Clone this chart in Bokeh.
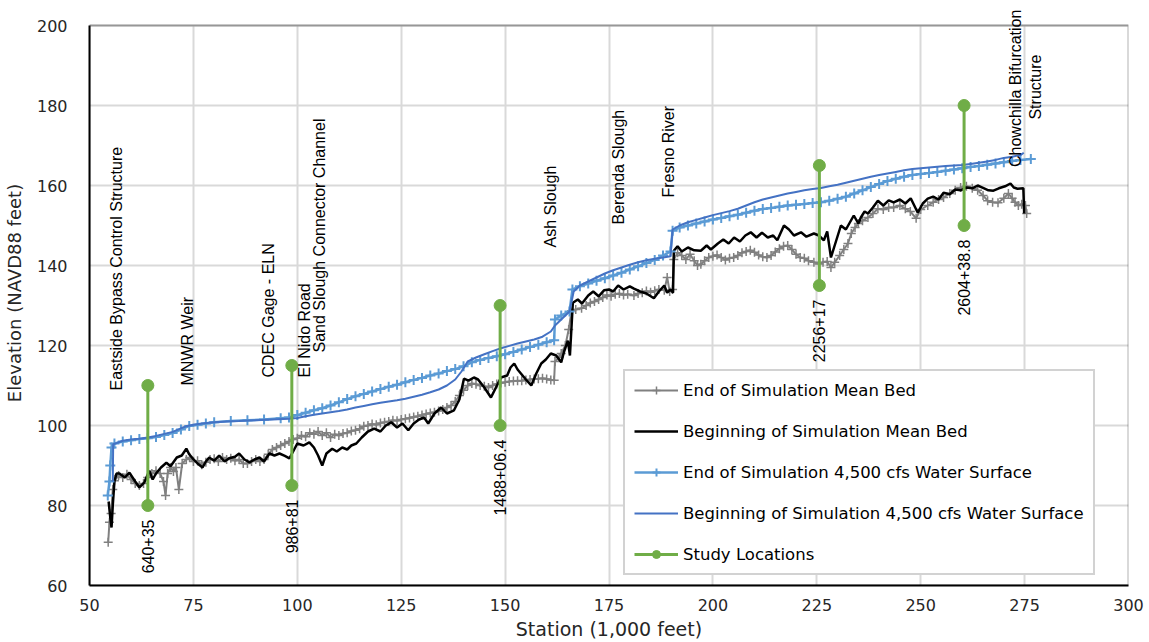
import numpy as np
from bokeh.plotting import figure
from bokeh.models import Range1d, FixedTicker, Legend, LegendItem, Label, ColumnDataSource, BoxAnnotation
from bokeh.core.properties import value
from bokeh.embed import file_html
from bokeh.resources import INLINE

# ---- profile data (station in 1,000 ft, elevation in ft NAVD88) ----
beg_ws_st = [55.6, 55.7, 56.5, 58, 60, 62, 64, 66, 68, 70, 72, 73.5, 75, 77, 80, 83, 86, 90, 94, 98,
             100, 102, 104, 106, 108, 110, 112, 114, 116, 118, 120, 122, 124, 126, 128, 130, 132, 134,
             136, 138, 139.5, 141, 143, 145, 147, 149, 151, 153, 155, 157, 159, 161, 162, 163.5, 165.5,
             166.5, 168, 170, 172, 174, 176, 178, 180, 182, 184, 186, 188, 189.8, 190.3, 192, 194, 196,
             198, 200, 202, 204, 206, 208, 210, 212, 214, 216, 218, 220, 222, 224, 226, 228, 230, 232,
             234, 236, 238, 240, 242, 244, 246, 248, 250, 252, 254, 256, 258, 260, 262, 264, 266, 268,
             270, 272, 274, 274.8]
beg_ws_el = [86, 95.3, 95.6, 96.2, 96.5, 96.7, 97, 97.4, 97.9, 98.4, 99.3, 99.9, 100.2, 100.5, 100.8,
             101.0, 101.1, 101.3, 101.5, 101.7, 101.9, 102.3, 102.7, 103.0, 103.3, 103.6, 104.0, 104.5,
             104.9, 105.3, 105.7, 106.0, 106.3, 106.7, 107.2, 107.7, 108.3, 109.0, 110.0, 111.5, 113.5,
             116.0, 117.0, 117.8, 118.6, 119.3, 119.9, 120.5, 121.0, 121.5, 122.2, 123.5, 125, 126.5,
             128.5, 133.5, 135.0, 136.0, 137.0, 138.0, 138.8, 139.5, 140.2, 140.8, 141.3, 141.7, 142.0,
             142.3, 149.0, 150.0, 150.8, 151.4, 152.0, 152.6, 153.1, 153.6, 154.2, 155.0, 155.8, 156.5,
             157.0, 157.5, 158.0, 158.4, 158.8, 159.1, 159.4, 159.8, 160.2, 160.7, 161.2, 161.7, 162.2,
             162.6, 163.0, 163.4, 163.8, 164.1, 164.3, 164.5, 164.7, 164.9, 165.0, 165.1, 165.4, 165.7,
             166.0, 166.4, 166.9, 167.2, 167.6, 168.2]

end_ws_st = [54.4, 54.8, 55.0, 55.3, 56, 58, 60, 62, 64, 66, 68, 70, 72, 74, 76, 78, 80, 84, 88, 92, 96,
             98, 100, 102, 104, 106, 108, 110, 112, 114, 116, 118, 120, 122, 124, 126, 128, 130, 132, 134,
             136, 138, 140, 142, 144, 146, 148, 150, 152, 154, 156, 158, 160, 161.8, 162.0, 163.5, 165.5,
             166.2, 168, 170, 172, 174, 176, 178, 180, 182, 184, 186, 188, 189.8, 190.3, 192, 194, 196,
             198, 200, 202, 204, 206, 208, 210, 212, 214, 216, 218, 220, 222, 224, 226, 228, 230, 232,
             234, 236, 238, 240, 242, 244, 246, 248, 250, 252, 254, 256, 258, 260, 262, 264, 266, 268,
             270, 272, 274, 276.5]
end_ws_el = [82.5, 86, 90, 94.5, 95.5, 96, 96.3, 96.6, 96.8, 97.1, 97.6, 98.1, 99.0, 99.9, 100.2, 100.5,
             100.8, 101.1, 101.3, 101.5, 101.8, 102.0, 102.6, 103.2, 103.8, 104.3, 105.0, 105.8, 106.6,
             107.3, 107.9, 108.5, 109.1, 109.7, 110.2, 110.8, 111.4, 111.9, 112.5, 113.0, 113.6, 114.1,
             114.8, 115.8, 116.4, 116.9, 117.3, 117.8, 118.4, 119.0, 119.6, 120.2, 120.8, 121.3, 126.5,
             127.5, 128.5, 134, 134.8, 135.5, 136.2, 136.8, 137.5, 138.2, 139.0, 139.8, 140.6, 141.4,
             142.5, 143.5, 148.7, 149.5, 150.0, 150.5, 151.0, 151.5, 151.9, 152.3, 152.7, 153.2, 153.7,
             154.1, 154.4, 154.7, 155.0, 155.2, 155.4, 155.6, 155.8, 156.2, 156.7, 157.2, 158.0, 158.8,
             159.6, 160.4, 161.1, 161.7, 162.2, 162.6, 162.9, 163.1, 163.4, 163.7, 164.0, 164.3, 164.6,
             164.9, 165.2, 165.5, 165.8, 166.1, 166.4, 166.6]

beg_bed_st = [54.6, 55.0, 55.3, 55.6, 56.0, 56.5, 57.2, 58.5, 59.6, 61, 62, 63.2, 64.4, 65.2, 66, 67.2,
              68.5, 69.5, 71, 72.2, 73.3, 74, 74.8, 76, 77.2, 78, 78.8, 80, 81.2, 82.5, 83.6, 85, 86,
              87.3, 88.5, 89.7, 90.9, 92, 93.3, 94.5, 95.7, 97, 98.1, 99, 100, 101.5, 102.9, 104, 105,
              106, 107, 108.4, 109.5, 110.8, 112, 113, 114.2, 115.5, 117, 118.5, 120, 121.3, 122.6, 124,
              125.3, 126.7, 128, 129.3, 130.5, 131.5, 133, 134.6, 136, 137.7, 139, 140.1, 141.2, 142.5,
              143.5, 145, 146.6, 147.8, 149, 150.5, 151.3, 152.2, 153, 153.8, 155, 156.3, 157.5, 158.7,
              159.8, 161, 162.3, 163.5, 164.2, 165.1, 165.6, 166.3, 167.5, 168.5, 170, 171.2, 172.5,
              173.8, 175, 176, 177.2, 178.5, 180, 181, 182.5, 184, 185.8, 187, 188.3, 189, 189.8, 190.4,
              190.6, 191.5, 192.5, 194, 195.5, 197.1, 198.5, 199.5, 201.2, 202.5, 203.8, 205.1, 206.5,
              207.8, 209.1, 210.5, 211.8, 213.2, 214.5, 215.5, 217.1, 218.3, 219.5, 221.2, 222.5, 224.3,
              225.5, 226.7, 227.5, 228.4, 229.3, 230.8, 232, 233.9, 235, 235.6, 236.5, 237.3, 238.5,
              239.7, 241, 242.3, 243.5, 245, 246.3, 247.6, 249.3, 250.5, 251.7, 253, 254.3, 255.5, 257,
              258.3, 259.6, 261, 262.4, 263.7, 265, 266.3, 267.5, 268.8, 270.3, 271.6, 272.4, 273.3,
              274.7, 274.9]
beg_bed_el = [81, 77, 74.5, 80, 86, 88, 88, 87, 88.2, 86, 84.5, 85.8, 88.7, 86.5, 88, 89.5, 90.7, 89.8,
              92, 92.5, 94.2, 92.8, 91.8, 90.5, 89.5, 91, 92, 91.2, 92.5, 91, 91.8, 92.2, 93, 91.5, 90.8,
              91.5, 92, 91, 93, 92.5, 93, 92.4, 91.8, 93.5, 95.5, 95, 95.8, 94.5, 92.5, 90, 93, 94.2,
              93.5, 94.5, 94, 95, 95.5, 97, 98.5, 99.2, 98.5, 100, 100.8, 99.5, 100.5, 98.8, 100.5,
              101.5, 102, 100.5, 103, 104.5, 103, 103.8, 106.5, 111.7, 111.2, 112, 111.5, 109.5, 107,
              109.5, 112, 112.5, 114.5, 115.5, 114, 113, 111.5, 110, 113, 115.5, 116.5, 118, 117.5,
              115.8, 118.5, 121.2, 117.5, 130.7, 131.5, 130.5, 132.5, 133.5, 132.3, 133.8, 134, 133.5,
              135, 134, 134.8, 134.2, 133.5, 133, 131.8, 133.5, 135, 133.2, 134, 133.2, 143.7, 144.8,
              143.5, 144.5, 143.8, 143.7, 145, 144, 145.5, 146.5, 145.5, 147, 146, 147.5, 148.3, 147,
              148.2, 147, 147.5, 146.3, 150, 149, 147.5, 148.3, 147.2, 148, 147.5, 146.3, 148.5, 142,
              145, 150, 149, 152.5, 150.5, 152, 153.5, 153, 154.5, 156.2, 155, 156.3, 155.8, 156.5,
              155.5, 156.8, 153.2, 155.5, 156.7, 157.2, 156.5, 158.2, 157.8, 159, 158.8, 159.5, 159.3,
              160, 159.4, 158.8, 158.7, 159.3, 159.8, 160.5, 159.5, 159.2, 159.3, 153]

end_bed_st = [54.5, 54.8, 55.2, 55.6, 56, 57, 58, 59, 60, 61, 62, 63, 64, 65, 66, 67, 67.8, 68.3, 68.8,
              69.5, 70.2, 70.8, 71.5, 72.3, 73.3, 74.1, 75, 76, 77, 78, 79, 80, 81, 82, 83, 84, 85, 86,
              87, 88, 89, 90, 91, 92, 93, 94, 95, 96, 97, 98, 99, 100, 101, 102, 103, 104, 105, 106,
              107, 108, 109, 110, 111, 112, 113, 114, 115, 116, 117, 118, 119, 120, 121, 122, 123, 124,
              125, 126, 127, 128, 129, 130, 131, 132, 133, 134, 135, 136, 137, 138, 139, 140, 141, 142,
              143, 144, 145, 146, 147, 148, 149, 150, 151, 152, 153, 154, 155, 156, 157, 158, 159, 160,
              161, 161.8, 162, 163, 163.5, 164.5, 165.3, 166, 167, 168.4, 169.5, 170.5, 171.5, 172.5,
              173.5, 174.5, 175.5, 176.5, 177.5, 178.5, 179.5, 181, 182, 183, 184, 185, 186, 187, 188.3,
              189, 189.6, 190.3, 190.6, 191.5, 192.5, 193.5, 194.5, 195.5, 196.3, 197.1, 198, 199, 200,
              201, 202, 203, 204, 205, 206, 207, 208, 209, 210, 211, 212, 213, 214, 215, 216, 217, 218,
              219, 220, 221, 222, 223, 224.3, 225.5, 226.5, 227.5, 228.4, 229.3, 230.5, 231.5, 232.5,
              233.3, 234.2, 235, 236, 237.3, 238.5, 239.7, 241, 242.3, 243.5, 245, 246.3, 247.5, 248.9,
              250, 251.7, 253, 254.3, 255.5, 257, 258.3, 259.6, 261, 262.4, 263.7, 265, 266.1, 267.3,
              268.6, 270, 271.1, 272, 272.7, 273.5, 274.3, 275.2, 275.5]
end_bed_el = [70.8, 75.8, 78, 84, 86.2, 87.5, 87, 87.8, 86.5, 85.5, 85, 85.5, 87, 88, 88.7, 88, 86, 82.5,
              88, 89.5, 88.5, 89.5, 84, 90.5, 91.5, 92, 91, 91.2, 90.2, 90.8, 91.5, 91.7, 91, 92, 91.5,
              91.8, 91.2, 91.5, 90.5, 90.5, 91, 91.5, 91, 91.5, 92.8, 94, 94.5, 95, 95.5, 96, 96.5, 96.8,
              97.5, 97.2, 98.2, 97.8, 98.5, 97.5, 98.2, 97, 97.8, 97.5, 98, 98.2, 98.6, 98.8, 99.2, 99.8,
              100, 100.4, 100.2, 100.6, 100.8, 101, 101.3, 101.2, 101.5, 101.7, 101.9, 102.1, 102.3,
              102.6, 102.9, 103.1, 103.3, 103.6, 104, 104.5, 105, 106, 107.5, 108.8, 110, 110.5, 110.3,
              110, 109.8, 109.5, 110, 110.4, 110.6, 110.8, 111, 111.1, 111.2, 111.2, 111.4, 111.5, 111.6,
              111.7, 111.8, 111.6, 111.4, 111.3, 116, 117, 118, 120, 124, 128.7, 129, 129.3, 130, 130.6,
              131, 131.5, 132, 132.6, 132.3, 132.8, 133, 132.6, 132.8, 132.5, 133, 133.2, 133.6, 133.3,
              133.7, 134, 133.8, 137, 133.5, 134, 141.5, 143.2, 142.5, 141.5, 142.8, 141.2, 140, 140.3,
              141.2, 142, 142.3, 142.6, 142, 141.4, 141.8, 142, 142.5, 143.2, 143.5, 143.8, 143.3, 142.6,
              142.2, 142, 142.5, 143.4, 144.2, 144.8, 145, 144, 142.8, 142, 141.8, 141.2, 140.8, 140.4,
              140.8, 141, 139.5, 140.8, 142.5, 144, 145.5, 148, 149.5, 150.5, 151.2, 152, 153, 154.2,
              154, 154.5, 154.5, 155, 154.2, 153.5, 151.8, 154, 155, 155.8, 156.5, 157, 158, 158.8, 159.5,
              159.8, 159.3, 158.8, 157.5, 156.2, 155.8, 155.7, 156.8, 158, 156.8, 155.8, 155, 155.3, 155,
              153]

# study locations: station, lower and upper ends of the marker bar, label
study_st = [64.035, 98.681, 148.806, 225.617, 260.439]
study_low = [80, 85, 100, 135, 150]
study_high = [110, 115, 130, 165, 180]
study_names = ["640+35", "986+81", "1488+06.4", "2256+17", "2604+38.8"]

# landmarks along the reach: name, station, elevation at the start of the label
landmark_names = ["Eastside Bypass Control Structure", "MNWR Weir", "CDEC Gage - ELN",
                  "El Nido Road", "Sand Slough Connector Channel", "Ash Slough",
                  "Berenda Slough", "Fresno River"]
landmark_st = [56.5, 73.6, 93.0, 101.7, 105.3, 161.0, 177.4, 189.4]
landmark_el = [108.75, 110.0, 112.0, 112.0, 118.25, 144.5, 150.25, 157.0]
# two-line label centred on its anchor
bif_lines = ["Chowchilla Bifurcation", "Structure"]
bif_st = [272.8, 277.6]
bif_el = [184.3, 184.6]

X_MIN, X_MAX, Y_MIN, Y_MAX = 50, 300, 60, 200

GRAY = "#808080"
LIGHT_BLUE = "#5B9BD5"
BLUE = "#4472C4"
GREEN = "#70AD47"
LABEL_FONT = "Liberation Sans"
TICK_FONT = "DejaVu Sans"

# the frame runs to the top of the canvas so that tall labels are not clipped;
# the plotting box itself is drawn as an annotation at the axis limits
p = figure(width=1149, height=642, x_range=Range1d(X_MIN, X_MAX), y_range=Range1d(Y_MIN, Y_MAX + 6.25),
           output_backend="svg", toolbar_location=None,
           min_border_left=88, min_border_right=21, min_border_top=0, min_border_bottom=57)
p.background_fill_color = "white"
p.border_fill_color = "white"
p.outline_line_color = None

p.xaxis.ticker = FixedTicker(ticks=list(range(X_MIN, X_MAX + 1, 25)))
p.yaxis.ticker = FixedTicker(ticks=list(range(Y_MIN, Y_MAX + 1, 20)))
p.yaxis.bounds = (Y_MIN, Y_MAX)
for ax in (p.xaxis, p.yaxis):
    ax.axis_line_color = "black"
    ax.axis_line_width = 2
    ax.major_tick_line_color = None
    ax.minor_tick_line_color = None
    ax.major_label_text_font = TICK_FONT
    ax.major_label_text_font_size = "16px"
    ax.major_label_text_color = "#262626"
    ax.axis_label_text_font = TICK_FONT
    ax.axis_label_text_font_style = "normal"
    ax.axis_label_text_color = "#262626"
p.xaxis.axis_label = "Station (1,000 feet)"
p.yaxis.axis_label = "Elevation (NAVD88 feet)"
p.xaxis.axis_label_text_font_size = "19px"
p.yaxis.axis_label_text_font_size = "18px"
p.xaxis.major_label_standoff = 7
p.yaxis.major_label_standoff = 16
p.xaxis.axis_label_standoff = 4
p.yaxis.axis_label_standoff = 9
p.grid.grid_line_color = "#D9D9D9"
p.grid.grid_line_width = 2
p.xgrid.cross_bounds = (Y_MIN, Y_MAX)

p.add_layout(BoxAnnotation(left=X_MIN, right=X_MAX, bottom=Y_MIN, top=Y_MAX,
                           fill_color=None, fill_alpha=0, line_color="black", line_width=2))

# bed profiles
r_eb_line = p.line(end_bed_st, end_bed_el, line_color=GRAY, line_width=2)
r_eb_mark = p.scatter(end_bed_st, end_bed_el, marker="cross", size=9, line_color=GRAY, line_width=1.5)
r_bb_line = p.line(beg_bed_st, beg_bed_el, line_color="black", line_width=2.5)

# water surface profiles
r_ew_line = p.line(end_ws_st, end_ws_el, line_color=LIGHT_BLUE, line_width=2.5)
r_ew_mark = p.scatter(end_ws_st, end_ws_el, marker="cross", size=10, line_color=LIGHT_BLUE, line_width=2)
r_bw_line = p.line(beg_ws_st, beg_ws_el, line_color=BLUE, line_width=2)

# study locations
study_src = ColumnDataSource(dict(x=study_st, lo=study_low, hi=study_high, name=study_names))
r_st_seg = p.segment(x0="x", y0="lo", x1="x", y1="hi", source=study_src, line_color=GREEN, line_width=3)
r_st_lo = p.scatter(x="x", y="lo", source=study_src, marker="circle", size=12,
                    fill_color=GREEN, line_color=GREEN)
r_st_hi = p.scatter(x="x", y="hi", source=study_src, marker="circle", size=12,
                    fill_color=GREEN, line_color=GREEN)
p.text(x="x", y="lo", text="name", source=study_src, angle=np.pi / 2, text_align="right",
       text_baseline="middle", y_offset=14, text_font=value(LABEL_FONT), text_font_size="16px",
       text_color="black")

for name, st, el in zip(landmark_names, landmark_st, landmark_el):
    p.add_layout(Label(x=st, y=el, text=name, angle=np.pi / 2, text_align="left",
                       text_baseline="middle", text_font=LABEL_FONT, text_font_size="16px",
                       text_color="black"))
for name, st, el in zip(bif_lines, bif_st, bif_el):
    p.add_layout(Label(x=st, y=el, text=name, angle=np.pi / 2, text_align="center",
                       text_baseline="middle", text_font=LABEL_FONT, text_font_size="16px",
                       text_color="black"))

legend = Legend(items=[
    LegendItem(label="End of Simulation Mean Bed", renderers=[r_eb_line, r_eb_mark]),
    LegendItem(label="Beginning of Simulation Mean Bed", renderers=[r_bb_line]),
    LegendItem(label="End of Simulation 4,500 cfs Water Surface", renderers=[r_ew_line, r_ew_mark]),
    LegendItem(label="Beginning of Simulation 4,500 cfs Water Surface", renderers=[r_bw_line]),
    LegendItem(label="Study Locations", renderers=[r_st_seg, r_st_lo]),
], location=(534, 10))
legend.margin = 0
legend.padding = 9
legend.spacing = 21
legend.label_height = 20
legend.glyph_height = 20
legend.glyph_width = 44
legend.label_standoff = 5
legend.label_text_font = TICK_FONT
legend.label_text_font_size = "16.5px"
legend.label_text_color = "black"
legend.border_line_color = "#A6A6A6"
legend.border_line_width = 2
legend.background_fill_color = "white"
legend.background_fill_alpha = 1
p.add_layout(legend)

open("out.html", "w").write(file_html(p, INLINE))
